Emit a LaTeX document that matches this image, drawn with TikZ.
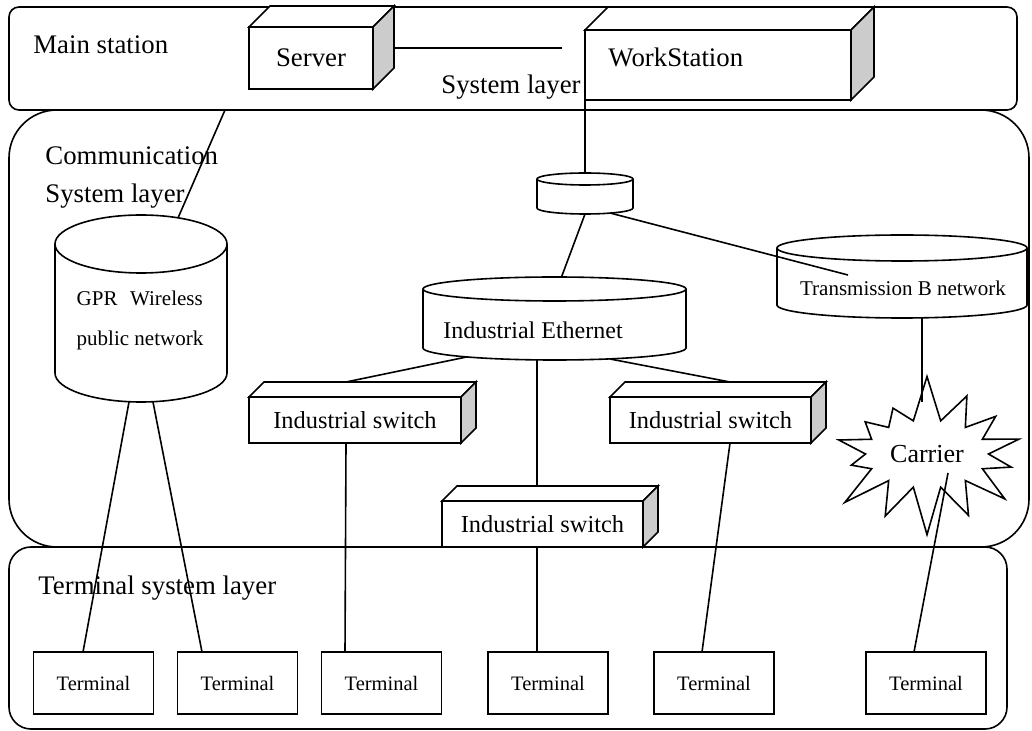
\documentclass[tikz,border=0pt]{standalone}
\usepackage{fontspec}
\setmainfont{Liberation Serif}
\usepackage{tikz}
\usetikzlibrary{shapes.symbols,calc}

\tikzset{
  layer/.style={draw, line width=0.8pt, anchor=north west, outer sep=0pt},
  unit/.style={draw, fill=white, line width=0.8pt, outer sep=0pt, inner sep=0pt,
    font=\fontsize{13.4}{16}\selectfont},
  switchbox/.style={unit, minimum height=23pt, font=\fontsize{12.2}{15}\selectfont},
  terminal/.style={draw, line width=0.8pt, outer sep=0pt, minimum width=60pt,
    minimum height=31pt, font=\fontsize{10.25}{12}\selectfont},
  tank/.style={outer sep=0pt, inner sep=0pt},
  tag/.style={inner sep=0pt, font=\fontsize{13.4}{16}\selectfont},
  link/.style={line width=0.8pt},
}

% top and side face of a box node
\newcommand{\drawdepth}[2]{%
  \draw[link, fill=white] (#1.north west) -- ++(#2,#2)
    -- ($(#1.north east)+(#2,#2)$) -- (#1.north east) -- cycle;
  \draw[link, fill=gray!40] (#1.north east) -- ++(#2,#2)
    -- ($(#1.south east)+(#2,#2)$) -- (#1.south east) -- cycle;
}
% outline of a drum round a node
\newcommand{\drum}[3]{%
  \draw[link] ($(#1.north)+(0,-#3)$) ellipse [x radius=#2, y radius=#3];
  \draw[link] ($(#1.north west)+(0,-#3)$) -- ($(#1.south west)+(0,#3)$)
    arc [start angle=180, end angle=360, x radius=#2, y radius=#3]
    -- ($(#1.north east)+(0,-#3)$);
}

\begin{document}
\begin{tikzpicture}[x=0.5pt, y=0.5pt]
            \useasboundingbox (0,0) rectangle (1032,-731);

            % layers
            \node[layer, rounded corners=5pt, minimum width=504pt, minimum height=51.5pt] (mainst) at (9,-7) {};
            \node[layer, rounded corners=24pt, minimum width=510pt, minimum height=218.5pt] (commst) at (9,-110) {};
            \node[layer, rounded corners=11pt, minimum width=499pt, minimum height=91pt] (termst) at (9,-547) {};

            \node[tag, anchor=west] (mainlbl) at (33,-45) {Main station};
            \node[tag, anchor=west] (syslbl) at (441,-87) {System layer};
            \node[tag, anchor=north west, align=left, font=\fontsize{13.4}{19}\selectfont] (commlbl) at (45,-146) {Communication\\System layer};
            \node[tag, anchor=west] (termlbl) at (38,-588) {Terminal system layer};

            % main station
            \node[unit, minimum width=62pt, minimum height=31pt] (server) at (311,-58) {Server};
            \drawdepth{server}{21}
            \node[unit, minimum width=133pt, minimum height=35pt] (ws) at (718,-65) {};
            \drawdepth{ws}{23}
            \node[tag, anchor=west] (wslbl) at (608,-57) {WorkStation};

            % networks
            \node[tank, minimum width=86pt, minimum height=93.5pt] (gpr) at (141,-308.5) {};
            \drum{gpr}{86}{29}
            \node[tag, align=left, font=\fontsize{10.5}{20}\selectfont] (gprlbl) at (140,-320) {GPR\hspace{0.6em}Wireless\\public network};

            \node[tank, minimum width=48pt, minimum height=20.5pt] (hub) at (585,-193.5) {};
            \drum{hub}{48}{6}

            \node[tank, minimum width=131.5pt, minimum height=41.5pt] (eth) at (554.5,-318.5) {};
            \drum{eth}{131.5}{12}
            \node[tag, font=\fontsize{12}{14}\selectfont] (ethlbl) at (533,-330) {Industrial Ethernet};

            \node[tank, minimum width=125pt, minimum height=41.5pt] (trans) at (902,-276.5) {};
            \drum{trans}{125}{13}
            \node[tag, font=\fontsize{10.5}{12}\selectfont] (translbl) at (903,-288) {Transmission B network};

            \node[starburst, draw, fill=white, line width=0.8pt, minimum width=104pt, minimum height=82pt,
                  starburst points=14, starburst point height=24pt, random starburst=7,
                  font=\fontsize{13}{15}\selectfont] (carrier) at (927,-454) {Carrier};

            % switches
            \node[switchbox, minimum width=106pt] (sw1) at (355,-420) {Industrial switch};
            \drawdepth{sw1}{15}
            \node[switchbox, minimum width=100.5pt] (sw2) at (710.5,-420) {Industrial switch};
            \drawdepth{sw2}{15}
            \node[switchbox, minimum width=100.5pt] (sw3) at (542.5,-524) {Industrial switch};
            \drawdepth{sw3}{15}

            % terminals
            \foreach \tx [count=\ti] in {93.5,237.5,381.5,548,714,926}
                \node[terminal] (t\ti) at (\tx,-683) {Terminal};

            % connections
            \coordinate (gprfeed) at ($(mainst.south west)+(216,0)$);
            \coordinate (srvend) at (562,-48);
            \draw[link] (gprfeed) -- ($(gpr.north)+(37,-3)$);
            \draw[link] ([xshift=10.5pt,yshift=5pt]server.east) -- (srvend);
            \draw[link] (ws.south west) -- (hub.north);
            \draw[link] (hub.south) -- ($(eth.north)+(7,0)$);
            \draw[link] ($(hub.south)+(25,1)$) -- ($(trans.north)+(-54,-40)$);
            \draw[link] ($(trans.south)+(20,0)$) -- ($(carrier.center)+(-5,52)$);
            \draw[link] ($(carrier.center)+(21,-19)$) -- ($(t6.north)+(-12,0)$);
            \draw[link] ($(eth.south)+(-88,3)$) -- ($(sw1.north)+(-9,15)$);
            \draw[link] ($(eth.south)+(-17.5,0)$) -- ($(sw3.north)+(-5.5,15)$);
            \draw[link] ($(eth.south)+(55.5,1)$) -- ($(sw2.north)+(19.5,15)$);
            \draw[link] ($(sw1.south)+(-9,0)$) -- ($(t3.north)+(-36.5,0)$);
            \draw[link] ($(sw3.south)+(-5.5,0)$) -- ($(t4.north)+(-11,0)$);
            \draw[link] ($(sw2.south)+(19.5,0)$) -- ($(t5.north)+(-12,0)$);
            \draw[link] ($(gpr.south)+(-12,0)$) -- ($(t1.north)+(-10.5,0)$);
            \draw[link] ($(gpr.south)+(12,0)$) -- ($(t2.north)+(-35.5,0)$);
        \end{tikzpicture}
\end{document}
